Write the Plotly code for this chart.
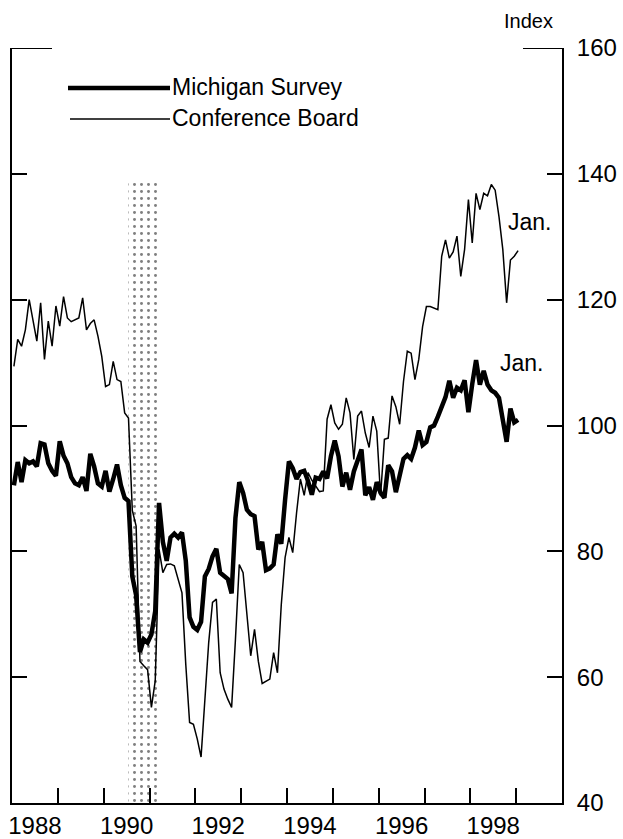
import plotly.graph_objects as go

# ---------------- data (monthly, Jan 1988 - Jan 1999) ----------------
start_year = 1988
michigan = [
    90.5, 94.2, 91.0, 94.5, 94.0, 94.3, 93.5, 97.2, 97.0, 94.0, 92.8, 92.0,      # 1988
    97.5, 95.2, 94.0, 91.8, 90.8, 90.5, 91.8, 89.6, 95.5, 93.5, 90.8, 90.3,      # 1989
    92.8, 89.5, 91.5, 93.8, 90.5, 88.5, 88.0, 76.0, 73.0, 64.0, 66.0, 65.5,      # 1990
    66.8, 70.5, 87.7, 81.5, 78.5, 82.2, 82.8, 82.2, 83.0, 78.5, 69.5, 68.0,      # 1991
    67.5, 68.8, 76.0, 77.2, 79.2, 80.4, 76.6, 76.1, 75.6, 73.3, 85.3, 91.0,      # 1992
    89.3, 86.6, 85.9, 85.6, 80.3, 81.5, 77.0, 77.3, 77.9, 82.7, 81.2, 88.2,      # 1993
    94.3, 93.2, 91.5, 92.6, 92.8, 91.2, 89.0, 91.7, 91.5, 92.7, 91.6, 95.1,      # 1994
    97.6, 95.1, 90.3, 92.5, 89.8, 92.7, 94.4, 96.2, 88.9, 90.2, 88.2, 91.0,      # 1995
    89.3, 88.5, 93.7, 92.7, 89.4, 92.4, 94.7, 95.3, 94.7, 96.5, 99.2, 96.9,      # 1996
    97.4, 99.7, 100.0, 101.4, 103.2, 104.5, 107.1, 104.4, 106.0, 105.6, 107.2, 102.1,  # 1997
    106.6, 110.4, 106.5, 108.7, 106.5, 105.6, 105.2, 104.4, 100.9, 97.4, 102.7, 100.5,  # 1998
    100.9,                                                                        # Jan 1999
]
conference_board = [
    109.4, 113.7, 112.6, 115.2, 120.0, 116.8, 113.4, 119.5, 110.5, 116.6, 112.6, 119.0,  # 1988
    115.8, 120.5, 117.1, 116.5, 116.8, 117.1, 120.3, 115.2, 116.2, 116.8, 114.2, 111.0,  # 1989
    106.2, 106.5, 110.2, 107.3, 107.0, 102.0, 101.2, 86.5, 84.0, 62.5, 61.8, 61.2,       # 1990
    55.2, 59.4, 80.3, 76.6, 77.9, 78.0, 77.7, 75.5, 73.4, 62.0, 52.8, 52.5,              # 1991
    50.2, 47.3, 56.5, 65.5, 71.9, 72.4, 60.7, 58.1, 56.5, 55.2, 66.0, 77.9,              # 1992
    76.6, 69.5, 63.4, 67.6, 62.5, 59.0, 59.4, 59.7, 63.9, 60.7, 71.5, 79.0,              # 1993
    82.2, 79.8, 86.1, 91.5, 88.9, 92.5, 91.3, 90.4, 89.5, 89.6, 101.0, 103.3,            # 1994
    100.4, 99.4, 100.2, 104.4, 102.0, 94.6, 101.5, 102.3, 98.8, 96.5, 101.5, 99.1,       # 1995
    88.8, 97.8, 98.0, 104.7, 103.0, 100.2, 107.0, 111.8, 111.5, 107.3, 110.5, 115.7,     # 1996
    118.9, 118.9, 118.7, 118.4, 126.9, 129.5, 126.6, 127.6, 130.1, 123.7, 128.0, 135.9,  # 1997
    129.0, 136.9, 134.3, 136.9, 136.5, 138.3, 137.4, 133.2, 128.0, 119.5, 126.3, 126.9,  # 1998
    127.8,                                                                                # Jan 1999
]
recession = [1990.54, 1991.23]          # Jul 1990 - Mar 1991
recession_top = 139
x_tick_years = [1988, 1990, 1992, 1994, 1996, 1998]
y_ticks = [40, 60, 80, 100, 120, 140, 160]
series_names = ["Michigan Survey", "Conference Board"]

# decimal-year positions, plotted at mid-month
t = [start_year + (i + 0.5) / 12 for i in range(len(michigan))]

FONT = "Liberation Sans, Arial, Helvetica, sans-serif"

fig = go.Figure()

# recession shading (dotted)
fig.add_trace(go.Scatter(
    x=[recession[0], recession[1], recession[1], recession[0], recession[0]],
    y=[40, 40, recession_top, recession_top, 40],
    mode="lines", fill="toself", line=dict(width=0),
    fillcolor="white",
    fillpattern=dict(shape=".", fgcolor="black", bgcolor="white", size=7, solidity=0.14),
    hoverinfo="skip", showlegend=False,
))

fig.add_trace(go.Scatter(x=t, y=conference_board, mode="lines",
                         line=dict(color="black", width=1.5), name=series_names[1],
                         showlegend=False))
fig.add_trace(go.Scatter(x=t, y=michigan, mode="lines",
                         line=dict(color="black", width=4.5), name=series_names[0],
                         showlegend=False))

W, H = 623, 839
L, R, T, B = 12, 61, 48, 36
pw, ph = W - L - R, H - T - B

def px_x(p):          # window pixel -> paper x
    return (p - L) / pw

def px_y(p):          # window pixel -> paper y
    return (H - B - p) / ph

shapes = []
# long top ticks at 160 (left and right)
shapes.append(dict(type="line", xref="paper", yref="y", x0=0, x1=px_x(52), y0=160, y1=160,
                   line=dict(color="black", width=2)))
shapes.append(dict(type="line", xref="paper", yref="y", x0=px_x(523), x1=1, y0=160, y1=160,
                   line=dict(color="black", width=2)))
# legend keys
shapes.append(dict(type="line", xref="paper", yref="paper", x0=px_x(68), x1=px_x(170),
                   y0=px_y(88), y1=px_y(88), line=dict(color="black", width=4.5)))
shapes.append(dict(type="line", xref="paper", yref="paper", x0=px_x(70), x1=px_x(170),
                   y0=px_y(119), y1=px_y(119), line=dict(color="black", width=1.5)))

annotations = [
    dict(text=series_names[0], xref="paper", yref="paper", x=px_x(170), y=px_y(87),
         xanchor="left", yanchor="middle", showarrow=False, font=dict(size=23, family=FONT, color="black")),
    dict(text=series_names[1], xref="paper", yref="paper", x=px_x(170), y=px_y(118),
         xanchor="left", yanchor="middle", showarrow=False, font=dict(size=23, family=FONT, color="black")),
    dict(text="Index", xref="paper", yref="paper", x=px_x(502), y=px_y(21),
         xanchor="left", yanchor="middle", showarrow=False, font=dict(size=20, family=FONT, color="black")),
    dict(text="Jan.", xref="x", yref="y", x=1998.78, y=132.4,
         xanchor="left", yanchor="middle", showarrow=False, font=dict(size=23, family=FONT, color="black")),
    dict(text="Jan.", xref="x", yref="y", x=1998.61, y=109.9,
         xanchor="left", yanchor="middle", showarrow=False, font=dict(size=23, family=FONT, color="black")),
]

fig.update_layout(
    width=W, height=H,
    margin=dict(l=L, r=R, t=T, b=B, pad=0),
    paper_bgcolor="white", plot_bgcolor="white",
    font=dict(family=FONT, size=20, color="black"),
    shapes=shapes, annotations=annotations,
    showlegend=False,
    xaxis=dict(
        range=[1988, 2000], automargin=False,
        tickvals=[y + 0.5 for y in x_tick_years],
        ticktext=[str(y) for y in x_tick_years],
        ticks="", showgrid=False, zeroline=False,
        showline=True, linecolor="black", linewidth=2, mirror=False,
        tickfont=dict(size=24),
        ticklabelstandoff=0,
        minor=dict(tickvals=list(range(1989, 2000)), ticks="inside", ticklen=15,
                   tickwidth=2, tickcolor="black", showgrid=False),
    ),
    yaxis=dict(
        range=[40, 160], side="right", automargin=False,
        tickvals=y_ticks, ticks="inside", ticklen=15, tickwidth=2, tickcolor="black",
        showgrid=False, zeroline=False,
        showline=True, linecolor="black", linewidth=2, mirror="ticks",
        tickfont=dict(size=24),
        ticklabelstandoff=8,
    ),
)

# remove the browser's default page margin so the figure fills the window exactly
fig.write_html("out.html",
               config={"displayModeBar": False},
               post_script="document.body.style.margin='0';document.body.style.overflow='hidden';")
